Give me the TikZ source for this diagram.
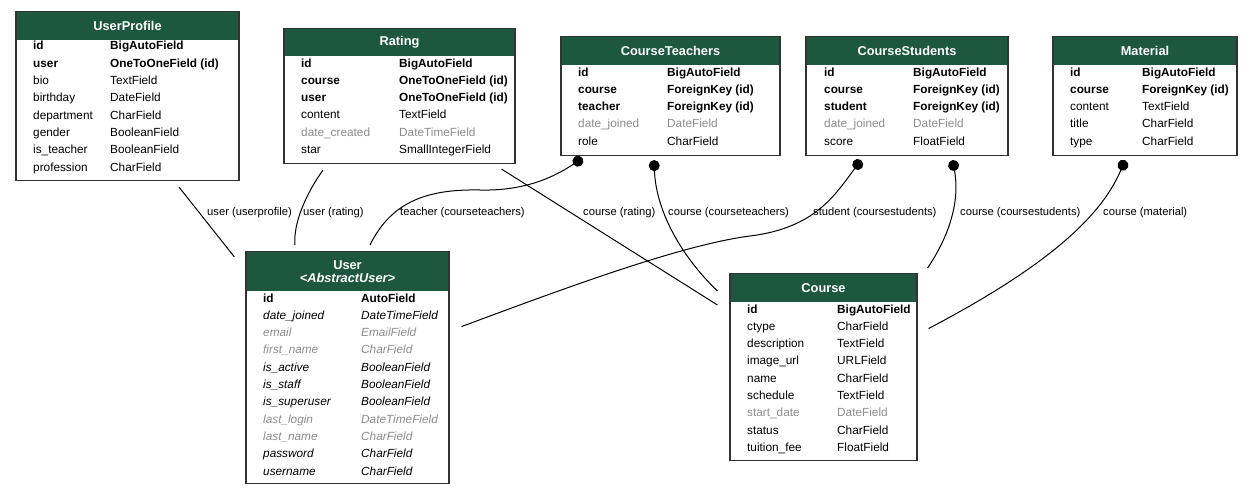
\documentclass[tikz,border=0pt]{standalone}
\usepackage{fontspec}
\setmainfont{Liberation Sans}
\usetikzlibrary{arrows.meta}
\definecolor{djgreen}{RGB}{29,88,62}
\definecolor{greytxt}{RGB}{140,140,140}
\begin{document}
\fontsize{11.8}{13.5}\selectfont
\begin{tikzpicture}[x=1pt, y=-1pt,
    tbl/.style    = {draw=black!80, line width=1.1pt, inner sep=0pt, anchor=north},
    hdr/.style    = {fill=djgreen, text=white, inner sep=0pt, anchor=north,
                     font=\fontsize{12.8}{14}\selectfont\bfseries},
    fld/.style    = {anchor=base west, inner sep=0pt},
    fplain/.style = {fld},
    fbold/.style  = {fld, font=\bfseries},
    fgrey/.style  = {fld, text=greytxt},
    fital/.style  = {fld, font=\itshape},
    fgrital/.style= {fld, font=\itshape, text=greytxt},
    lbl/.style    = {anchor=west, inner sep=0pt, font=\fontsize{11.2}{13}\selectfont},
    rel/.style    = {line width=1pt},
    fk/.style     = {rel, {Circle[length=11pt, width=11pt]}-},
  ]
  \useasboundingbox (0,0) rectangle (1252,495);

  % UserProfile
  \node[hdr, minimum width=223, minimum height=29] (userprofile-h) at (127.5,11) {UserProfile};
  \node[tbl, minimum width=223, minimum height=169] (userprofile) at (userprofile-h.north) {};
  \foreach \st/\nm/\ty [count=\i from 0] in {fbold/id/BigAutoField, fbold/user/OneToOneField (id),
      fplain/bio/TextField, fplain/birthday/DateField, fplain/department/CharField,
      fplain/gender/BooleanField, fplain/is\_teacher/BooleanField, fplain/profession/CharField} {
    \node[\st] (up-n\i) at (33, {50+17.3*\i}) {\nm};
    \node[\st] (up-t\i) at (110, {50+17.3*\i}) {\ty};
  }

  % Rating
  \node[hdr, minimum width=231, minimum height=28] (rating-h) at (399.5,28) {Rating};
  \node[tbl, minimum width=231, minimum height=135] (rating) at (rating-h.north) {};
  \foreach \st/\nm/\ty [count=\i from 0] in {fbold/id/BigAutoField, fbold/course/OneToOneField (id),
      fbold/user/OneToOneField (id), fplain/content/TextField,
      fgrey/date\_created/DateTimeField, fplain/star/SmallIntegerField} {
    \node[\st] (ra-n\i) at (301, {67+17.3*\i}) {\nm};
    \node[\st] (ra-t\i) at (399, {67+17.3*\i}) {\ty};
  }

  % CourseTeachers
  \node[hdr, minimum width=219, minimum height=29] (courseteachers-h) at (670.5,36) {CourseTeachers};
  \node[tbl, minimum width=219, minimum height=119] (courseteachers) at (courseteachers-h.north) {};
  \foreach \st/\nm/\ty [count=\i from 0] in {fbold/id/BigAutoField, fbold/course/ForeignKey (id),
      fbold/teacher/ForeignKey (id), fgrey/date\_joined/DateField, fplain/role/CharField} {
    \node[\st] (ct-n\i) at (578, {76+17.3*\i}) {\nm};
    \node[\st] (ct-t\i) at (667, {76+17.3*\i}) {\ty};
  }

  % CourseStudents
  \node[hdr, minimum width=202, minimum height=29] (coursestudents-h) at (907,36) {CourseStudents};
  \node[tbl, minimum width=202, minimum height=119] (coursestudents) at (coursestudents-h.north) {};
  \foreach \st/\nm/\ty [count=\i from 0] in {fbold/id/BigAutoField, fbold/course/ForeignKey (id),
      fbold/student/ForeignKey (id), fgrey/date\_joined/DateField, fplain/score/FloatField} {
    \node[\st] (cs-n\i) at (824, {76+17.3*\i}) {\nm};
    \node[\st] (cs-t\i) at (913, {76+17.3*\i}) {\ty};
  }

  % Material
  \node[hdr, minimum width=184, minimum height=29] (material-h) at (1145,36) {Material};
  \node[tbl, minimum width=184, minimum height=119] (material) at (material-h.north) {};
  \foreach \st/\nm/\ty [count=\i from 0] in {fbold/id/BigAutoField, fbold/course/ForeignKey (id),
      fplain/content/TextField, fplain/title/CharField, fplain/type/CharField} {
    \node[\st] (ma-n\i) at (1070, {76+17.3*\i}) {\nm};
    \node[\st] (ma-t\i) at (1142, {76+17.3*\i}) {\ty};
  }

  % User (abstract)
  \node[hdr, minimum width=203, minimum height=40, align=center] (user-h) at (347.5,251)
    {User\\[-1pt]\itshape<AbstractUser>};
  \node[tbl, minimum width=203, minimum height=232] (user) at (user-h.north) {};
  \foreach \st/\nm/\ty [count=\i from 0] in {fbold/id/AutoField, fital/date\_joined/DateTimeField,
      fgrital/email/EmailField, fgrital/first\_name/CharField, fital/is\_active/BooleanField,
      fital/is\_staff/BooleanField, fital/is\_superuser/BooleanField,
      fgrital/last\_login/DateTimeField, fgrital/last\_name/CharField,
      fital/password/CharField, fital/username/CharField} {
    \node[\st] (us-n\i) at (263, {302+17.3*\i}) {\nm};
    \node[\st] (us-t\i) at (361, {302+17.3*\i}) {\ty};
  }

  % Course
  \node[hdr, minimum width=187, minimum height=29] (course-h) at (823.5,273) {Course};
  \node[tbl, minimum width=187, minimum height=187] (course) at (course-h.north) {};
  \foreach \st/\nm/\ty [count=\i from 0] in {fbold/id/BigAutoField, fplain/ctype/CharField,
      fplain/description/TextField, fplain/image\_url/URLField, fplain/name/CharField,
      fplain/schedule/TextField, fgrey/start\_date/DateField, fplain/status/CharField,
      fplain/tuition\_fee/FloatField} {
    \node[\st] (co-n\i) at (747, {313+17.3*\i}) {\nm};
    \node[\st] (co-t\i) at (837, {313+17.3*\i}) {\ty};
  }

  % relations
  \draw[rel] ([shift={(51.5,6)}]userprofile.south) -- ([shift={(-11,6)}]user.north west);
  \draw[rel] ([shift={(-76.5,6)}]rating.south)
    .. controls (305,195) and (293,225) .. ([shift={(-52.5,-6)}]user.north);
  \draw[fk] ([shift={(22,2)}]courseteachers.south west)
    .. controls (550,180) and (520,191) .. (480,190)
    .. controls (430,189) and (392,200) .. ([shift={(22.5,-6)}]user.north);
  \draw[rel] ([shift={(-14,5)}]rating.south east) -- ([shift={(-12,32)}]course.north west);
  \draw[fk] ([shift={(-16.5,4)}]courseteachers.south)
    .. controls (656,210) and (680,255) .. ([shift={(-12,18)}]course.north west);
  \draw[fk] ([shift={(-46,4)}]coursestudents.south)
    .. controls (835,195) and (815,228) .. (750,236)
    .. controls (680,245) and (560,290) .. ([shift={(12,-41)}]user.east);
  \draw[fk] ([shift={(-56,4)}]coursestudents.south east)
    .. controls (960,200) and (950,235) .. ([shift={(10,-5)}]course.north east);
  \draw[fk] ([shift={(-20,4)}]material.south)
    .. controls (1100,220) and (1040,270) .. ([shift={(11,-38.5)}]course.east);

  % labels
  \node[lbl] (l-userprofile) at (207,213) {user (userprofile)};
  \node[lbl] (l-userrating) at (303,213) {user (rating)};
  \node[lbl] (l-teacher) at (400,213) {teacher (courseteachers)};
  \node[lbl] (l-courserating) at (583,213) {course (rating)};
  \node[lbl] (l-courseteachers) at (668,213) {course (courseteachers)};
  \node[lbl] (l-student) at (813,213) {student (coursestudents)};
  \node[lbl] (l-coursestudents) at (960,213) {course (coursestudents)};
  \node[lbl] (l-material) at (1103,213) {course (material)};
\end{tikzpicture}
\end{document}
